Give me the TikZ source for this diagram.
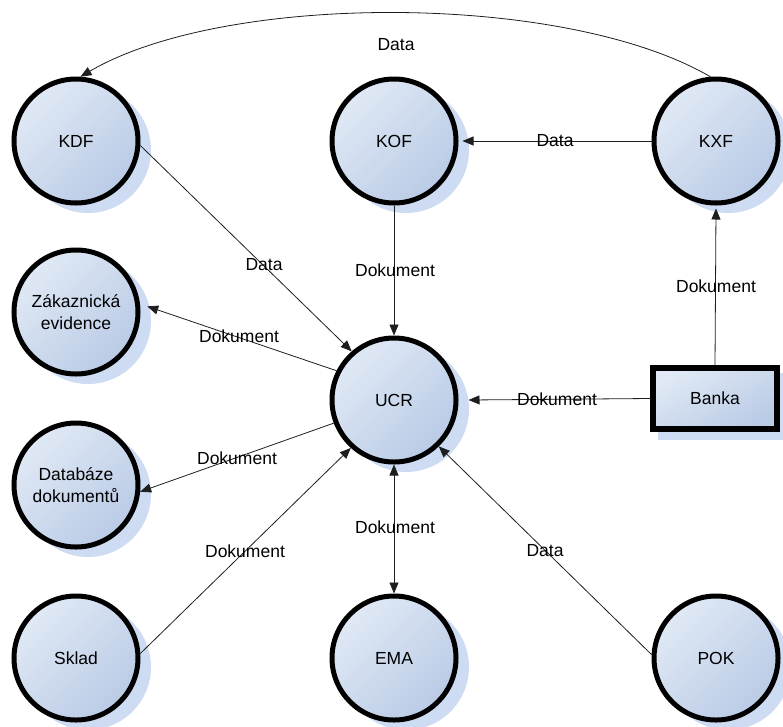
\documentclass[tikz,border=0pt]{standalone}
\usepackage{fontspec}
\setmainfont{Liberation Sans}
\usetikzlibrary{arrows.meta,calc,backgrounds}

\definecolor{procLight}{RGB}{224,233,245}
\definecolor{procDark}{RGB}{186,203,230}
\definecolor{shadowblue}{RGB}{206,220,243}
\definecolor{linegray}{RGB}{30,30,30}

\tikzset{
  txt/.style={font=\fontsize{17.5}{21.5}\selectfont},
  proc/.style={circle, minimum size=124pt, inner sep=0pt, line width=5pt,
    draw=black, top color=procLight, bottom color=procDark, shading angle=45,
    align=center, txt},
  ent/.style={rectangle, minimum width=124pt, minimum height=61pt, inner sep=0pt,
    line width=6pt, draw=black, top color=procLight, bottom color=procDark,
    shading angle=30, txt},
  shadowfill/.style={fill=shadowblue},
  conn/.style={draw=linegray, line width=0.8pt},
  lbl/.style={inner sep=0pt, txt},
}

\begin{document}
\begin{tikzpicture}[x=1pt, y=-1pt, >={Triangle[length=11pt,width=9pt]}]
\useasboundingbox (0,0) rectangle (783,726);

% processes and the external entity
\node[proc] (kdf)   at (76,141)  {KDF};
\node[proc] (kof)   at (394,141) {KOF};
\node[proc] (kxf)   at (716,141) {KXF};
\node[proc] (zak)   at (76,312)  {Zákaznická\\evidence};
\node[proc] (ucr)   at (394,400) {UCR};
\node[proc] (db)    at (76,485)  {Databáze\\dokumentů};
\node[proc] (sklad) at (76,658)  {Sklad};
\node[proc] (ema)   at (394,658) {EMA};
\node[proc] (pok)   at (716,658) {POK};
\node[ent]  (banka) at (715,398.5) {Banka};

% drop shadows under every shape
\begin{pgfonlayer}{background}
  \foreach \n in {kdf,kof,kxf,zak,ucr,db,sklad,ema,pok}
    \fill[shadowfill] ($(\n)+(12,9)$) circle[radius=63pt];
  \fill[shadowfill] ($(banka.south west)+(8,8)$) rectangle ($(banka.north east)+(8,8)$);
\end{pgfonlayer}

% data flows
\draw[conn,->] (kxf.95) .. controls (565,-8) and (225,-8) .. (kdf.86);
\draw[conn,->] (kxf.west) -- ($(kof.east)+(4,0)$);
\draw[conn,->] (kof.south) -- (ucr.north);
\draw[conn,->] (kdf.-4) -- (ucr.131);
\draw[conn,->] (ucr.153) -- ($(zak.5)+(7,0)$);
\draw[conn,->] (ucr.201) -- (db.-6);
\draw[conn,->] (sklad.4) -- (ucr.228);
\draw[conn,<->] (ucr.south) -- (ema.north);
\draw[conn,->] (pok.177) -- (ucr.314);
\draw[conn,->] (banka.west) -- ($(ucr.east)+(10,0)$);
\draw[conn,->] (banka.north) -- ($(kxf.south)+(0,3)$);

% flow labels
\node[lbl] (l1)  at (396,45)  {Data};
\node[lbl] (l2)  at (555,141) {Data};
\node[lbl] (l3)  at (395,270) {Dokument};
\node[lbl] (l4)  at (264,265) {Data};
\node[lbl] (l5)  at (239,336) {Dokument};
\node[lbl] (l6)  at (237,458) {Dokument};
\node[lbl] (l7)  at (245,551) {Dokument};
\node[lbl] (l8)  at (395,527) {Dokument};
\node[lbl] (l9)  at (545,551) {Data};
\node[lbl] (l10) at (557,399) {Dokument};
\node[lbl] (l11) at (716,286) {Dokument};
\end{tikzpicture}
\end{document}
